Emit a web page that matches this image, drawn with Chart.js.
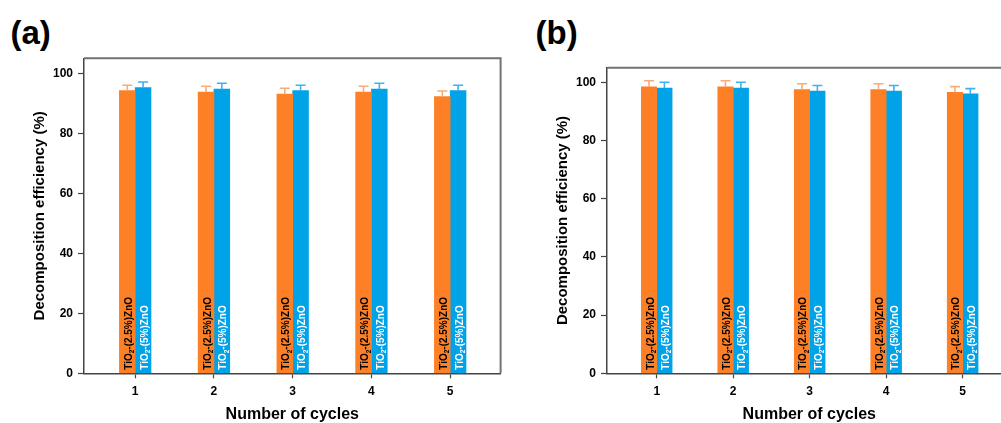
<!DOCTYPE html>
<html><head><meta charset="utf-8">
<script src="https://cdn.jsdelivr.net/npm/chart.js@4"></script>
<style>
html,body{margin:0;padding:0;background:#fff;overflow:hidden;width:1001px;height:423px;position:relative;}
canvas{position:absolute;top:0;}
.lbl{position:absolute;font:bold 33px 'Liberation Sans',Arial,sans-serif;color:#000;line-height:1;white-space:nowrap;}
</style></head><body>
<div class="lbl" style="left:10.5px;top:16px">(a)</div>
<div class="lbl" style="left:535.5px;top:16px">(b)</div>
<canvas id="ca" width="511" height="423" style="left:0px"></canvas>
<canvas id="cb" width="499" height="423" style="left:523.3px"></canvas>
<script>
const cycles = [1, 2, 3, 4, 5];
const yTicks = [0, 20, 40, 60, 80, 100];
const seriesNames = ['TiO₂-(2.5%)ZnO', 'TiO₂-(5%)ZnO'];
const xTitle = 'Number of cycles';
const yTitle = 'Decomposition efficiency (%)';

const aOrange    = [94.2, 93.7, 93.1, 93.7, 92.2];
const aOrangeErr = [1.8, 2.0, 1.9, 2.0, 1.9];
const aBlue      = [95.2, 94.7, 94.2, 94.7, 94.2];
const aBlueErr   = [1.9, 2.0, 1.8, 2.0, 1.8];

const bOrange    = [98.4, 98.4, 97.5, 97.5, 96.5];
const bOrangeErr = [2.1, 2.1, 2.0, 2.0, 2.0];
const bBlue      = [98.0, 98.0, 97.0, 97.0, 96.0];
const bBlueErr   = [2.0, 2.0, 1.9, 1.9, 1.8];

const FONT = "'Liberation Sans', Arial, sans-serif";

function drawSub(ctx, text, size) {
  let x = 0;
  const parts = text.split('₂');
  parts.forEach((p, k) => {
    ctx.font = `bold ${size}px ${FONT}`;
    ctx.fillText(p, x, 0);
    x += ctx.measureText(p).width;
    if (k < parts.length - 1) {
      ctx.font = `bold ${size * 0.65}px ${FONT}`;
      ctx.fillText('2', x, size * 0.25);
      x += ctx.measureText('2').width;
    }
  });
}

const extras = {
  id: 'extras',
  afterDatasetsDraw(chart) {
    const ctx = chart.ctx;
    const y = chart.scales.y;
    chart.data.datasets.forEach((ds, i) => {
      const meta = chart.getDatasetMeta(i);
      meta.data.forEach((bar, j) => {
        const v = ds.data[j].y, e = ds.errors[j];
        const yt = y.getPixelForValue(v + e), yv = y.getPixelForValue(v);
        ctx.save();
        ctx.strokeStyle = ds.errorColor;
        ctx.lineWidth = 1.6;
        ctx.beginPath();
        ctx.moveTo(bar.x, yv); ctx.lineTo(bar.x, yt);
        ctx.moveTo(bar.x - 5, yt); ctx.lineTo(bar.x + 5, yt);
        ctx.stroke();
        ctx.restore();
        ctx.save();
        ctx.translate(bar.x + 4.5, bar.base - 3);
        ctx.rotate(-Math.PI / 2);
        ctx.fillStyle = ds.textColor;
        ctx.textBaseline = 'alphabetic';
        ctx.textAlign = 'left';
        drawSub(ctx, ds.label, 10);
        ctx.restore();
      });
    });
    const a = chart.chartArea;
    ctx.save();
    ctx.strokeStyle = '#727272';
    ctx.lineWidth = 2;
    ctx.beginPath();
    ctx.moveTo(a.left, a.top); ctx.lineTo(a.right, a.top); ctx.lineTo(a.right, a.bottom);
    ctx.stroke();
    ctx.restore();
  }
};

function makeChart(id, orange, oErr, blue, bErr, padTop, padRight, thick) {
  return new Chart(document.getElementById(id), {
    type: 'bar',
    data: {
      datasets: [
        { label: seriesNames[0], data: cycles.map((c, i) => ({ x: c, y: orange[i] })), errors: oErr,
          backgroundColor: '#FD7F26', errorColor: '#F9AC7A', textColor: '#000', barThickness: thick },
        { label: seriesNames[1], data: cycles.map((c, i) => ({ x: c, y: blue[i] })), errors: bErr,
          backgroundColor: '#00A2E8', errorColor: '#3DB3EA', textColor: '#fff', barThickness: thick }
      ]
    },
    options: {
      responsive: false, animation: false, devicePixelRatio: 1,
      layout: { padding: { top: padTop, right: padRight, bottom: 0, left: 0 } },
      plugins: { legend: { display: false }, tooltip: { enabled: false } },
      scales: {
        x: {
          type: 'linear', min: 0.35, max: 5.64, offset: false,
          afterBuildTicks: s => { s.ticks = cycles.map(v => ({ value: v })); },
          afterFit: s => { s.height = 49.7; },
          ticks: { padding: 6, color: '#000', font: { family: FONT, size: 12, weight: 'bold' }, maxRotation: 0, autoSkip: false },
          grid: { display: true, offset: false, drawOnChartArea: false, drawTicks: true, tickLength: 5, tickColor: '#444', tickWidth: 1.2 },
          border: { display: true, color: '#444', width: 1.5 },
          title: { display: true, text: xTitle, color: '#000', font: { family: FONT, size: 16, weight: 'bold', lineHeight: 1 }, padding: { top: 0, bottom: 0 } }
        },
        y: {
          min: 0, max: 105,
          afterBuildTicks: s => { s.ticks = yTicks.map(v => ({ value: v })); },
          afterFit: s => { s.width = 84; },
          ticks: { padding: 5, color: '#000', font: { family: FONT, size: 12, weight: 'bold' } },
          grid: { display: true, drawOnChartArea: false, drawTicks: true, tickLength: 6, tickColor: '#444', tickWidth: 1.2 },
          border: { display: true, color: '#444', width: 1.5 },
          title: { display: true, text: yTitle, color: '#000', font: { family: FONT, size: 15, weight: 'bold', lineHeight: 1 }, padding: { top: 32.5, bottom: 0 } }
        }
      }
    },
    plugins: [extras]
  });
}

makeChart('ca', aOrange, aOrangeErr, aBlue, aBlueErr, 58.3, 10.4, 15.8);
makeChart('cb', bOrange, bOrangeErr, bBlue, bBlueErr, 67.7, 10.4, 15.4);
</script>
</body></html>
